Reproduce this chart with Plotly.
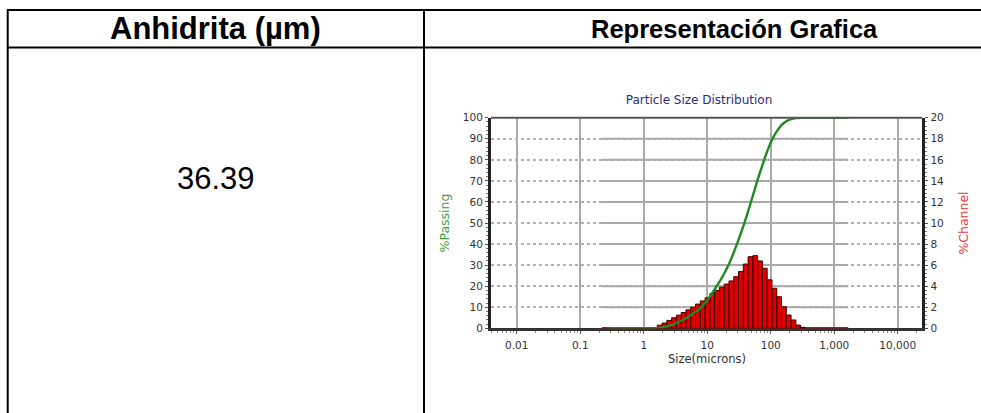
import plotly.graph_objects as go

W, H = 981, 413

# ---------------- data ----------------
col_headers = ["Anhidrita (µm)", "Representación Grafica"]
value_text = "36.39"

chart_title = "Particle Size Distribution"
x_title = "Size(microns)"
y_left_title = "%Passing"
y_right_title = "%Channel"

x_tick_vals = [0.01, 0.1, 1, 10, 100, 1000, 10000]
x_tick_text = ["0.01", "0.1", "1", "10", "100", "1,000", "10,000"]
y_left_ticks = [0, 10, 20, 30, 40, 50, 60, 70, 80, 90, 100]
y_right_ticks = [0, 2, 4, 6, 8, 10, 12, 14, 16, 18, 20]

# histogram channels (size bin edges in microns, % per channel)
bin_edges = [1.635, 1.945, 2.312, 2.75, 3.27, 3.89, 4.62, 5.50, 6.54, 7.78,
             9.25, 11.0, 13.08, 15.56, 18.5, 22.0, 26.16, 31.11, 37.0, 44.0,
             52.33, 62.23, 74.0, 88.0, 104.7, 124.5, 148.0, 176.0, 209.3,
             248.9, 296.0, 352.0]
channel_pct = [0.3, 0.5, 0.75, 1.0, 1.25, 1.5, 1.75, 2.0, 2.3, 2.6,
               2.9, 3.3, 3.6, 3.9, 4.2, 4.5, 4.9, 5.4, 6.1, 6.8,
               6.9, 6.4, 5.7, 4.6, 3.8, 3.0, 2.05, 1.26, 0.79, 0.31, 0.09]
measured_span = [0.22, 1660]   # size range of the measurement (zero channels drawn)

# cumulative %passing curve
passing_sizes = [0.29, 1.0, 1.635, 1.945, 2.312, 2.75, 3.27, 3.89, 4.62, 5.50,
                 6.54, 7.78, 9.25, 11.0, 13.08, 15.56, 18.5, 22.0, 26.16, 31.11,
                 37.0, 44.0, 52.33, 62.23, 74.0, 88.0, 104.7, 124.5, 148.0, 176.0,
                 209.3, 248.9, 296.0, 352.0, 1660]
passing_pct = [0, 0, 0, 0.4, 0.9, 1.6, 2.5, 3.6, 4.8, 6.2,
               7.7, 9.5, 12.0, 15.0, 18.5, 22.0, 26.0, 30.5, 36.0, 42.0,
               48.5, 55.5, 63.0, 70.5, 77.5, 84.0, 89.5, 93.5, 96.5, 98.3,
               99.3, 99.8, 100, 100, 100]

x_range_log = [-2.405, 4.387]

# ---------------- helpers ----------------
def px(x):
    return x / W

def py(y):
    return 1 - y / H

fig = go.Figure()

# solid grid segments over the measured range (outside it the grid is dotted)
gx, gy = [], []
for v in y_left_ticks[1:-1]:
    gx += [measured_span[0], measured_span[1], None]
    gy += [v, v, None]
fig.add_trace(go.Scatter(x=gx, y=gy, mode="lines",
                         line=dict(color="#a9a9a9", width=2),
                         hoverinfo="skip", showlegend=False))

# zero-height channels along the baseline (red)
fig.add_trace(go.Scatter(x=measured_span, y=[0, 0], mode="lines",
                         line=dict(color="#e00000", width=2.5),
                         yaxis="y2", hoverinfo="skip", showlegend=False))

# histogram bars as rectangles
rx, ry = [], []
for lo, hi, h in zip(bin_edges[:-1], bin_edges[1:], channel_pct):
    rx += [lo, lo, hi, hi, lo, None]
    ry += [0, h, h, 0, 0, None]
fig.add_trace(go.Scatter(x=rx, y=ry, mode="lines", fill="toself",
                         fillcolor="#e00000",
                         line=dict(color="#4a0000", width=1),
                         yaxis="y2", hoverinfo="skip", showlegend=False))

# cumulative curve (on its own overlay so it is drawn above the bars)
fig.add_trace(go.Scatter(x=passing_sizes, y=passing_pct, mode="lines",
                         line=dict(color="#1f8a1f", width=2.4, shape="spline",
                                   smoothing=0.6),
                         yaxis="y3", hoverinfo="skip", showlegend=False))

tick_font = dict(family="DejaVu Sans", size=10.5, color="#333333")
title_font_family = "DejaVu Sans"

x0d, x1d = px(491), px(922.3)
y0d, y1d = py(328.3), py(117.7)

fig.update_layout(
    width=W, height=H, autosize=False,
    margin=dict(l=0, r=0, t=0, b=0),
    paper_bgcolor="white", plot_bgcolor="white",
    showlegend=False,
    title=dict(text=chart_title, x=px(699), y=py(100), xanchor="center",
               yanchor="middle", xref="paper", yref="paper",
               font=dict(family=title_font_family, size=12, color="#2b2b7e")),
    xaxis=dict(type="log", range=x_range_log, domain=[x0d, x1d],
               tickvals=x_tick_vals, ticktext=x_tick_text,
               showgrid=True, gridcolor="#a9a9a9", gridwidth=2,
               showline=True, linecolor="#333333", linewidth=3,
               ticks="outside", ticklen=3, tickcolor="#555555",
               tickfont=tick_font, zeroline=False, layer="below traces",
               ticklabelstandoff=2,
               automargin=False,
               minor=dict(ticks="outside", ticklen=2, tickcolor="#888888",
                          dtick="D1", showgrid=False)),
    yaxis=dict(range=[0, 100], domain=[y0d, y1d], tickvals=y_left_ticks,
               showgrid=True, gridcolor="#b0b0b0", gridwidth=2, griddash="dot",
               showline=True, linecolor="#222222", linewidth=3,
               ticks="outside", ticklen=3, tickcolor="#555555",
               tickfont=tick_font, zeroline=False, layer="below traces",
               title=dict(text=y_left_title, standoff=11,
                          font=dict(family=title_font_family, size=12.5, color="#3f9a3f")),
               automargin=False,
               minor=dict(ticks="outside", ticklen=2, dtick=2, tickcolor="#777777")),
    yaxis2=dict(range=[0, 20], overlaying="y", side="right",
                tickvals=y_right_ticks, showgrid=False,
                showline=True, linecolor="#222222", linewidth=3,
                ticks="outside", ticklen=3, tickcolor="#555555",
                tickfont=tick_font, zeroline=False, layer="below traces",
                title=dict(text=y_right_title, standoff=17,
                           font=dict(family=title_font_family, size=12.5, color="#e23a3a")),
                automargin=False,
                minor=dict(ticks="outside", ticklen=2, dtick=0.4, tickcolor="#777777")),
    yaxis3=dict(range=[0, 100], overlaying="y", visible=False),
)

# x-axis title placed just under the tick labels
fig.add_annotation(text=x_title, x=0.5, y=py(359), xref="x domain", yref="paper",
                   showarrow=False, xanchor="center", yanchor="middle",
                   font=dict(family=title_font_family, size=11.5, color="#333333"))

# top border of the plot
fig.add_shape(type="line", xref="x domain", yref="y domain", x0=0, x1=1, y0=1, y1=1,
              line=dict(color="#555555", width=2))

# ---------------- table frame ----------------
tbl = dict(color="black", width=2)
fig.add_shape(type="line", xref="paper", yref="paper", x0=px(7), x1=1.02, y0=py(10), y1=py(10), line=tbl)
fig.add_shape(type="line", xref="paper", yref="paper", x0=px(7), x1=1.02, y0=py(47.5), y1=py(47.5), line=tbl)
fig.add_shape(type="line", xref="paper", yref="paper", x0=px(7.7), x1=px(7.7), y0=py(9), y1=-0.02, line=tbl)
fig.add_shape(type="line", xref="paper", yref="paper", x0=px(424), x1=px(424), y0=py(9), y1=-0.02, line=tbl)

fig.add_annotation(text=col_headers[0], x=px(215.5), y=py(29), xref="paper", yref="paper",
                   showarrow=False, xanchor="center", yanchor="middle",
                   font=dict(family="Liberation Sans", size=31, color="black", weight=700))
fig.add_annotation(text=col_headers[1], x=px(734), y=py(29), xref="paper", yref="paper",
                   showarrow=False, xanchor="center", yanchor="middle",
                   font=dict(family="Liberation Sans", size=25.5, color="black", weight=700))
fig.add_annotation(text=value_text, x=px(215.5), y=py(178), xref="paper", yref="paper",
                   showarrow=False, xanchor="center", yanchor="middle",
                   font=dict(family="Liberation Sans", size=31, color="black"))

fig.write_html("out.html")
